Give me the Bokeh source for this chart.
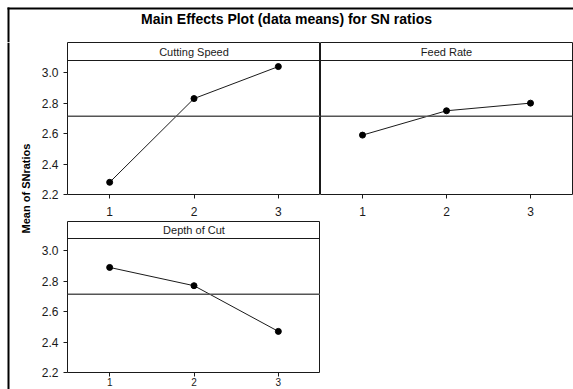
import math
import numpy as np
from bokeh.plotting import figure
from bokeh.models import Range1d, FixedTicker, Span, Label, NumeralTickFormatter
from bokeh.layouts import row, column
from bokeh.embed import file_html
from bokeh.resources import INLINE

# ---- data ----
title_text = "Main Effects Plot (data means) for SN ratios"
y_label_text = "Mean of SNratios"
factor_names = ["Cutting Speed", "Feed Rate", "Depth of Cut"]
levels = [1, 2, 3]
level_labels = ["1", "2", "3"]
cutting_speed = [2.28, 2.83, 3.04]
feed_rate = [2.59, 2.75, 2.80]
depth_of_cut = [2.89, 2.77, 2.47]
y_ticks = [2.2, 2.4, 2.6, 2.8, 3.0]

grand_mean = float(np.mean(cutting_speed + feed_rate + depth_of_cut))

FONT = "Liberation Sans"
INK = "#1a1a1a"


def panel(name, vals, width, height, show_y, b_left, b_right, b_bottom,
          header_px=18, x_font="12px", x_standoff=8):
    y0, y_plot_top = 2.2, 3.08
    frame_h = height - b_bottom
    ppu = (frame_h - header_px) / (y_plot_top - y0)
    y_top = y_plot_top + header_px / ppu
    p = figure(width=width, height=height,
               x_range=Range1d(0.5, 3.5), y_range=Range1d(y0, y_top),
               output_backend="svg", toolbar_location=None, title=None,
               y_axis_location="left" if show_y else None,
               min_border_left=b_left, min_border_right=b_right,
               min_border_top=0, min_border_bottom=b_bottom)
    p.grid.visible = False
    p.outline_line_color = INK
    p.outline_line_width = 1
    p.background_fill_color = "white"
    p.border_fill_color = "white"

    axes = [p.xaxis[0]] + ([p.yaxis[0]] if show_y else [])
    for ax in axes:
        ax.axis_line_color = None
        ax.major_tick_in = 0
        ax.major_tick_out = 4
        ax.minor_tick_line_color = None
        ax.major_tick_line_color = INK
        ax.major_label_text_font = FONT
        ax.major_label_text_font_size = "12px"
        ax.major_label_text_color = INK
    p.xaxis.ticker = FixedTicker(ticks=levels)
    p.xaxis.major_label_overrides = {l: s for l, s in zip(levels, level_labels)}
    p.xaxis.major_label_standoff = x_standoff
    p.xaxis.major_label_text_font_size = x_font
    if show_y:
        p.yaxis.ticker = FixedTicker(ticks=y_ticks)
        p.yaxis.formatter = NumeralTickFormatter(format="0.0")
        p.yaxis.major_label_standoff = 5

    # grand mean reference line
    p.add_layout(Span(location=grand_mean, dimension="width",
                      line_color="#555555", line_width=1.5))
    # strip header
    p.add_layout(Span(location=y_plot_top, dimension="width",
                      line_color=INK, line_width=1))
    p.add_layout(Label(x=2, y=(y_plot_top + y_top) / 2, text=name,
                       text_align="center", text_baseline="middle",
                       text_font=FONT, text_font_size="11px",
                       text_color=INK))
    # data
    p.line(levels, vals, line_color=INK, line_width=1)
    p.scatter(levels, vals, size=6, fill_color="black", line_color="black")
    return p


fig1 = panel(factor_names[0], cutting_speed, 282, 179, True, 28, 0, 27)
fig2 = panel(factor_names[1], feed_rate, 253, 179, False, 0, 1, 27)
fig3 = panel(factor_names[2], depth_of_cut, 282, 168, True, 28, 0, 17,
             header_px=17, x_font="10px", x_standoff=1)

# title strip (with the outer frame corner)
tf = figure(width=573, height=42, x_range=Range1d(0, 573), y_range=Range1d(0, 42),
            output_backend="svg", toolbar_location=None, title=None,
            x_axis_location=None, y_axis_location=None, min_border=0)
tf.outline_line_color = None
tf.grid.visible = False
tf.add_layout(Label(x=286, y=24, text=title_text, text_align="center",
                    text_baseline="middle", text_font=FONT,
                    text_font_style="bold", text_font_size="14px",
                    text_color="black"))
tf.segment(x0=[7], y0=[34], x1=[573], y1=[34], line_width=2, line_color="black")
tf.segment(x0=[8], y0=[35], x1=[8], y1=[0], line_width=2, line_color="black")

# y label strip
lf_h = 179 + 168
lf = figure(width=38, height=lf_h, x_range=Range1d(0, 38), y_range=Range1d(0, lf_h),
            output_backend="svg", toolbar_location=None, title=None,
            x_axis_location=None, y_axis_location=None, min_border=0)
lf.outline_line_color = None
lf.grid.visible = False
lf.add_layout(Span(location=8, dimension="height", line_width=2, line_color="black"))
lf.add_layout(Label(x=25.5, y=lf_h - (188 - 42), text=y_label_text, angle=math.pi / 2,
                    text_align="center", text_baseline="middle",
                    text_font=FONT, text_font_style="bold",
                    text_font_size="11px", text_color="black"))

layout = column(tf, row(lf, column(row(fig1, fig2), fig3)))

open("out.html", "w").write(file_html(layout, INLINE))
